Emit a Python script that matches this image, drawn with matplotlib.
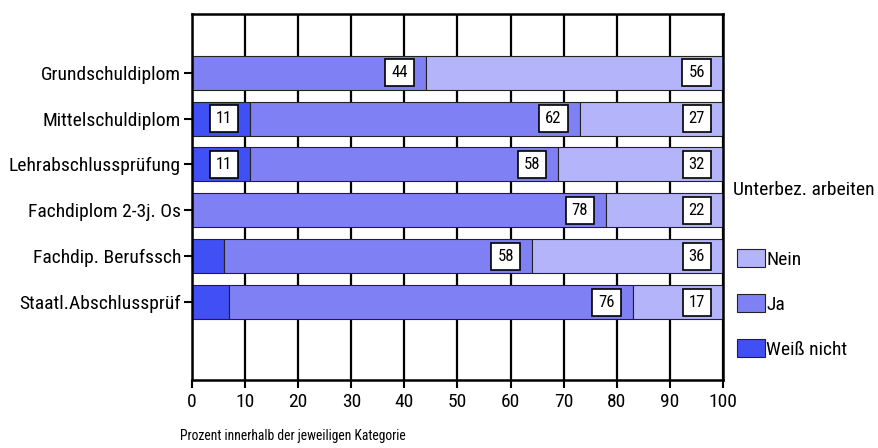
import matplotlib.pyplot as plt
from matplotlib.patches import Patch

plt.rcParams['font.family'] = ['Roboto Condensed', 'DejaVu Sans']

kategorien = ["Grundschuldiplom", "Mittelschuldiplom", "Lehrabschlussprüfung",
              "Fachdiplom 2-3j. Os", "Fachdip. Berufssch", "Staatl.Abschlussprüf"]
weiss_nicht = [0, 11, 11, 0, 6, 7]
ja = [44, 62, 58, 78, 58, 76]
nein = [56, 27, 32, 22, 36, 17]

serien = ["Weiß nicht", "Ja", "Nein"]
farben = ["#4050f5", "#8080f5", "#b4b4fa"]

fig = plt.figure(figsize=(8.79, 4.48), dpi=100)
ax = fig.add_axes([192/879, 1-380/448, (723-192)/879, (380-14)/448])

pos = list(range(len(kategorien)))
links = [0]*len(kategorien)
for werte, farbe in zip([weiss_nicht, ja, nein], farben):
    bars = ax.barh(pos, werte, left=links, height=0.74, color=farbe,
                   edgecolor='#222222', linewidth=0.8, zorder=2)
    for b, w in zip(bars, werte):
        if w >= 10:
            ende = b.get_x() + b.get_width()
            ax.annotate(str(w), (min(ende, 100), b.get_y() + b.get_height()/2),
                        xytext=(-18, 0), textcoords='offset pixels',
                        ha='right', va='center', fontsize=12, zorder=3,
                        bbox=dict(boxstyle='square,pad=0.36', fc='white',
                                  ec='black', lw=1.2))
    links = [l + w for l, w in zip(links, werte)]

ax.set_xlim(0, 100)
ax.set_ylim(6.7, -1.28)
ax.set_xticks(range(0, 101, 10))
ax.set_yticks(pos)
ax.set_yticklabels(kategorien, fontsize=14)
ax.tick_params(axis='x', labelsize=14, length=6, width=1.5, pad=3)
ax.tick_params(axis='y', length=6, width=1.5, pad=2)
ax.set_axisbelow(True)
ax.xaxis.grid(True, color='black', linewidth=1.6, zorder=0)
for s in ax.spines.values():
    s.set_linewidth(1.8)

fig.text(733/879, 1-190/448, "Unterbez. arbeiten", fontsize=14,
         ha='left', va='center')
handles = [Patch(facecolor=farben[i], edgecolor='#222222', linewidth=0.8,
                 label=serien[i]) for i in (2, 1, 0)]
fig.legend(handles=handles, loc='upper left',
           bbox_to_anchor=(737/879, 1-249/448), frameon=False, fontsize=14,
           handlelength=1.45, handleheight=1.03, handletextpad=0.05,
           labelspacing=1.32, borderpad=0, borderaxespad=0)

fig.text(180/879, 1-436/448, "Prozent innerhalb der jeweiligen Kategorie",
         fontsize=9.8, ha='left', va='center')

fig.savefig("out.png", dpi=100)
